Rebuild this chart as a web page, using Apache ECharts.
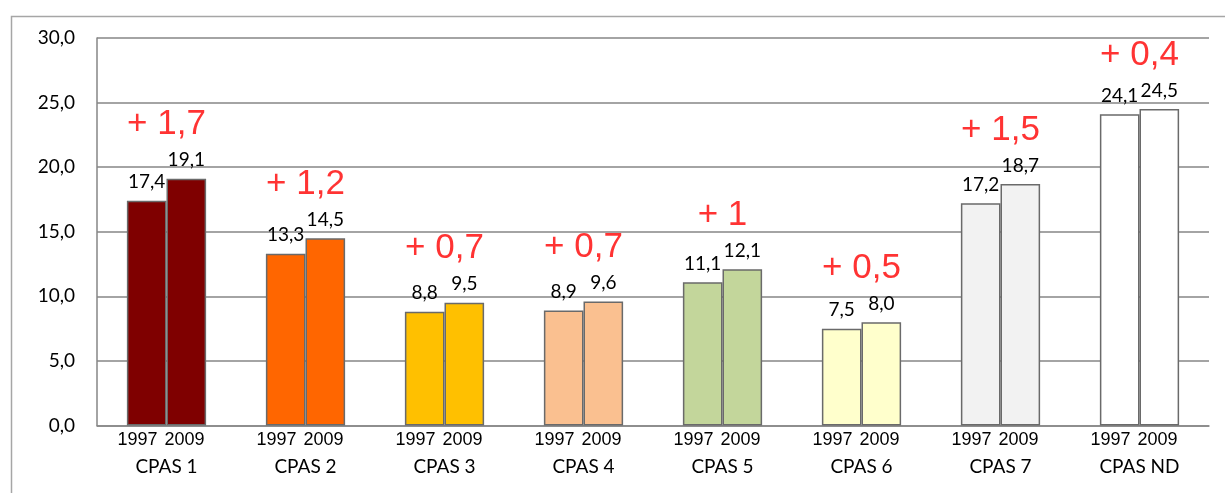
<!DOCTYPE html>
<html>
<head>
<meta charset="utf-8">
<script src="https://cdn.jsdelivr.net/npm/echarts@6/dist/echarts.min.js"></script>
<style>
  html, body { margin: 0; padding: 0; background: #fff; }
  #chart { width: 1225px; height: 493px; }
</style>
</head>
<body>
<div id="chart"></div>
<script>
// CPAS groups, values for 1997 and 2009
const categories = ['CPAS 1', 'CPAS 2', 'CPAS 3', 'CPAS 4', 'CPAS 5', 'CPAS 6', 'CPAS 7', 'CPAS ND'];
const years = ['1997', '2009'];
const values1997 = [17.4, 13.3, 8.8, 8.9, 11.1, 7.5, 17.2, 24.1];
const values2009 = [19.1, 14.5, 9.5, 9.6, 12.1, 8.0, 18.7, 24.5];
const groupColors = ['#7F0000', '#FF6600', '#FFC000', '#FAC090', '#C3D69B', '#FFFFCC', '#F2F2F2', '#FFFFFF'];

const comma = v => v.toFixed(1).replace('.', ',');
const gainText = (a, b) => {
  const d = Math.round((b - a) * 10) / 10;
  return '+ ' + (Number.isInteger(d) ? String(d) : comma(d));
};

const barBorder = { borderColor: '#6A6A6A', borderWidth: 1.5 };
const valueLabel = {
  show: true, position: 'top', distance: 9,
  fontFamily: 'Lato', fontSize: 19, color: '#000',
  formatter: p => comma(p.value)
};

function barSeries(name, vals) {
  return {
    name, type: 'bar', barGap: '0%', barCategoryGap: '43%',
    data: vals.map((v, i) => ({ value: v, itemStyle: Object.assign({ color: groupColors[i] }, barBorder) })),
    label: valueLabel,
    silent: true
  };
}

const chart = echarts.init(document.getElementById('chart'));
chart.setOption({
  animation: false,
  backgroundColor: '#fff',
  graphic: [{
    type: 'rect', left: 9, top: 14,
    shape: { width: 1400, height: 600 },
    style: { fill: 'none', stroke: '#A6A6A6', lineWidth: 1.5 },
    silent: true
  }],
  grid: { left: 97, right: 16, top: 38, bottom: 67.5 },
  xAxis: {
    type: 'category', data: categories,
    axisLine: { show: true, lineStyle: { color: '#868686', width: 1.5 } },
    axisTick: { show: false },
    axisLabel: {
      interval: 0, margin: 4,
      fontFamily: 'Liberation Sans', fontSize: 18, color: '#000',
      formatter: c => '{y|' + years[0] + '}{s|}{y|' + years[1] + '}{p|}\n{c|' + c + '}',
      rich: {
        y: { fontFamily: 'Liberation Sans', fontSize: 18, color: '#000', lineHeight: 22 },
        s: { width: 7, lineHeight: 22 },
        p: { width: 11, lineHeight: 22 },
        c: { fontFamily: 'Lato', fontSize: 19, color: '#000', lineHeight: 31, align: 'center' }
      }
    }
  },
  yAxis: {
    type: 'value', min: 0, max: 30, interval: 5,
    axisLine: { show: true, lineStyle: { color: '#868686', width: 1.5 } },
    axisTick: { show: false },
    splitLine: { lineStyle: { color: '#868686', width: 1.5 } },
    axisLabel: {
      margin: 22, fontFamily: 'Lato', fontSize: 19, color: '#000',
      formatter: v => comma(v)
    }
  },
  series: [
    barSeries(years[0], values1997),
    barSeries(years[1], values2009),
    {
      // gain between the two years, printed above each group
      type: 'scatter', symbolSize: 1, silent: true,
      itemStyle: { color: 'rgba(0,0,0,0)' },
      data: categories.map((c, i) => [c, Math.max(values1997[i], values2009[i])]),
      label: {
        show: true, position: 'top', distance: 36,
        fontFamily: 'Liberation Sans', fontSize: 35, color: '#FF0000',
        formatter: p => gainText(values1997[p.dataIndex], values2009[p.dataIndex])
      },
      z: 5
    }
  ]
});
</script>
</body>
</html>
